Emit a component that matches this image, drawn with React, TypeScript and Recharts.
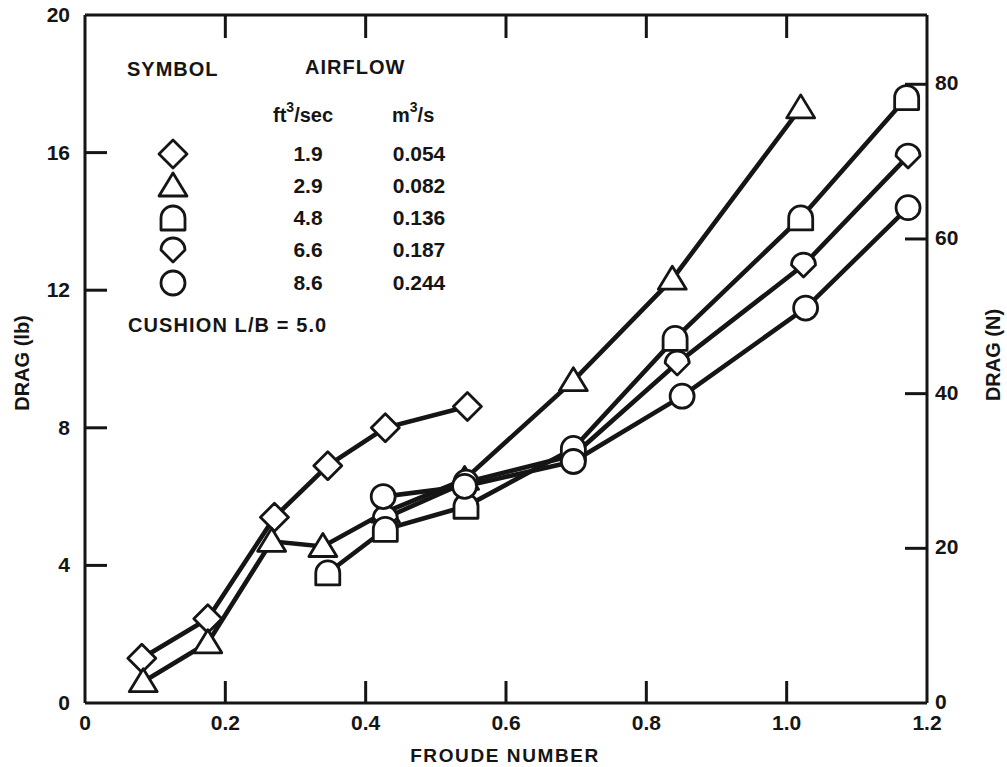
import React from "react";
import { ScatterChart, Scatter, XAxis, YAxis } from "recharts";

const FONT = "'Liberation Sans', Arial, sans-serif";
const INK = "#151515";

// Froude number (x) and drag in lb (y) per airflow series
const diamondX = [0.081, 0.175, 0.27, 0.346, 0.428, 0.545];
const diamondY = [1.3, 2.45, 5.4, 6.9, 8.0, 8.62];

const triangleX = [0.083, 0.175, 0.266, 0.339, 0.428, 0.541, 0.696, 0.837, 1.02];
const triangleY = [0.62, 1.75, 4.7, 4.55, 5.55, 6.5, 9.37, 12.32, 17.3];

const dsquareX = [0.346, 0.428, 0.543, 0.696, 0.841, 1.02, 1.171];
const dsquareY = [3.78, 5.05, 5.72, 7.4, 10.6, 14.1, 17.6];

const shieldX = [0.428, 0.543, 0.696, 0.844, 1.024, 1.173];
const shieldY = [5.38, 6.42, 7.2, 9.88, 12.73, 15.9];

const circleX = [0.425, 0.541, 0.696, 0.851, 1.027, 1.173];
const circleY = [6.0, 6.3, 7.02, 8.92, 11.48, 14.4];

const xTicks = [0, 0.2, 0.4, 0.6, 0.8, 1.0, 1.2];
const topTicks = [0.2, 0.4, 0.6, 0.8, 1.0];
const lbTicks = [0, 4, 8, 12, 16, 20];
const nTicks = [0, 20, 40, 60, 80];

const legendFt = ["1.9", "2.9", "4.8", "6.6", "8.6"];
const legendM = ["0.054", "0.082", "0.136", "0.187", "0.244"];
const legendShapes = ["diamond", "triangle", "dsquare", "shield", "circle"];

const toPts = (xs: number[], ys: number[]) => xs.map((x, i) => ({ x, y: ys[i] }));

const markerPath = (kind: string, cx: number, cy: number) => {
  switch (kind) {
    case "diamond":
      return `M${cx},${cy - 14} L${cx + 14},${cy} L${cx},${cy + 14} L${cx - 14},${cy} Z`;
    case "triangle":
      return `M${cx},${cy - 13} L${cx + 14},${cy + 10} L${cx - 14},${cy + 10} Z`;
    case "dsquare":
      return `M${cx - 12},${cy + 12} L${cx - 12},${cy} A12,12 0 0 1 ${cx + 12},${cy} L${cx + 12},${cy + 12} Z`;
    case "shield":
      return `M${cx - 12},${cy} A12,12 0 0 1 ${cx + 12},${cy} L${cx},${cy + 12} Z`;
    default:
      return "";
  }
};

const Marker = ({ kind, cx, cy }: { kind: string; cx: number; cy: number }) =>
  kind === "circle" ? (
    <circle cx={cx} cy={cy} r={12} fill="#fff" stroke={INK} strokeWidth={2.8} />
  ) : (
    <path d={markerPath(kind, cx, cy)} fill="#fff" stroke={INK} strokeWidth={2.8} strokeLinejoin="round" />
  );

const shapeFor = (kind: string) => (props: any) => <Marker kind={kind} cx={props.cx} cy={props.cy} />;

const txt = { fontFamily: FONT, fontWeight: 700, fill: INK } as const;

const fmtX = (v: number) => (v === 0 ? "0" : v.toFixed(1));

const BottomTick = (props: any) => {
  const { x, y, payload } = props;
  const v = payload.value;
  const edge = v === 0 || v === 1.2;
  return (
    <g>
      {!edge && <line x1={x} x2={x} y1={y} y2={y - 22} stroke={INK} strokeWidth={3} />}
      <text x={x} y={y + 27} textAnchor="middle" fontSize={21} {...txt}>
        {fmtX(v)}
      </text>
    </g>
  );
};

const TopTick = (props: any) => {
  const { x, y } = props;
  return <line x1={x} x2={x} y1={y} y2={y + 23} stroke={INK} strokeWidth={3} />;
};

const LeftTick = (props: any) => {
  const { x, y, payload } = props;
  const v = payload.value;
  const edge = v === 0 || v === 20;
  return (
    <g>
      {!edge && <line x1={x} x2={x + 22} y1={y} y2={y} stroke={INK} strokeWidth={3} />}
      <text x={x - 15} y={y + 7} textAnchor="end" fontSize={21} {...txt}>
        {v}
      </text>
    </g>
  );
};

const RightTick = (props: any) => {
  const { x, y, payload } = props;
  const v = payload.value;
  return (
    <g>
      {v !== 0 && <line x1={x} x2={x - 22} y1={y} y2={y} stroke={INK} strokeWidth={3} />}
      <text x={x + 8} y={y + 6} textAnchor="start" fontSize={21} {...txt}>
        {v}
      </text>
    </g>
  );
};

const lineStyle = { stroke: INK, strokeWidth: 4.6 };

const rowY = [154, 186, 218, 250, 283];

export default function App() {
  return (
    <div style={{ position: "absolute", left: 0, top: 0, width: 1007, height: 767, background: "#fff" }}>
      <ScatterChart width={1007} height={767} margin={{ top: 10, right: 20, bottom: 24, left: 25 }}>
        <XAxis
          type="number"
          dataKey="x"
          domain={[0, 1.2]}
          ticks={xTicks}
          allowDataOverflow
          height={40}
          tickSize={0}
          tickMargin={0}
          tickLine={false}
          axisLine={{ stroke: INK, strokeWidth: 3 }}
          tick={<BottomTick />}
        />
        <XAxis
          xAxisId="top"
          orientation="top"
          type="number"
          dataKey="x"
          domain={[0, 1.2]}
          ticks={topTicks}
          allowDataOverflow
          height={5}
          tickSize={0}
          tickMargin={0}
          tickLine={false}
          axisLine={{ stroke: INK, strokeWidth: 3 }}
          tick={<TopTick />}
        />
        <YAxis
          type="number"
          dataKey="y"
          domain={[0, 20]}
          ticks={lbTicks}
          allowDataOverflow
          width={60}
          tickSize={0}
          tickMargin={0}
          tickLine={false}
          axisLine={{ stroke: INK, strokeWidth: 3 }}
          tick={<LeftTick />}
        />
        <YAxis
          yAxisId="right"
          orientation="right"
          type="number"
          domain={[0, 88.96]}
          ticks={nTicks}
          allowDataOverflow
          width={60}
          tickSize={0}
          tickMargin={0}
          tickLine={false}
          axisLine={{ stroke: INK, strokeWidth: 3 }}
          tick={<RightTick />}
        />
        <Scatter data={toPts(diamondX, diamondY)} line={lineStyle} shape={shapeFor("diamond")} isAnimationActive={false} />
        <Scatter data={toPts(triangleX, triangleY)} line={lineStyle} shape={shapeFor("triangle")} isAnimationActive={false} />
        <Scatter data={toPts(shieldX, shieldY)} line={lineStyle} shape={shapeFor("shield")} isAnimationActive={false} />
        <Scatter data={toPts(dsquareX, dsquareY)} line={lineStyle} shape={shapeFor("dsquare")} isAnimationActive={false} />
        <Scatter data={toPts(circleX, circleY)} line={lineStyle} shape={shapeFor("circle")} isAnimationActive={false} />
      </ScatterChart>
      <svg width={1007} height={767} style={{ position: "absolute", left: 0, top: 0, pointerEvents: "none" }}>
        <text x={127} y={76} fontSize={20} letterSpacing={1} {...txt}>SYMBOL</text>
        <text x={305} y={74} fontSize={20} letterSpacing={1} {...txt}>AIRFLOW</text>
        <text x={273} y={122} fontSize={20} {...txt}>
          ft<tspan dy={-10} fontSize={14}>3</tspan><tspan dy={10}>/sec</tspan>
        </text>
        <text x={392} y={122} fontSize={20} {...txt}>
          m<tspan dy={-10} fontSize={14}>3</tspan><tspan dy={10}>/s</tspan>
        </text>
        {legendShapes.map((k, i) => (
          <Marker key={k} kind={k} cx={173} cy={rowY[i]} />
        ))}
        {legendFt.map((t, i) => (
          <text key={"f" + t} x={308} y={rowY[i] + 7} textAnchor="middle" fontSize={21} {...txt}>{t}</text>
        ))}
        {legendM.map((t, i) => (
          <text key={"m" + t} x={419} y={rowY[i] + 7} textAnchor="middle" fontSize={21} {...txt}>{t}</text>
        ))}
        <text x={128} y={332} fontSize={20} letterSpacing={1.1} {...txt}>CUSHION L/B = 5.0</text>
        <text x={505} y={762} textAnchor="middle" fontSize={19} letterSpacing={1.6} {...txt}>FROUDE NUMBER</text>
        <text x={0} y={0} transform="translate(29,363) rotate(-90)" textAnchor="middle" fontSize={20} {...txt}>DRAG (lb)</text>
        <text x={0} y={0} transform="translate(1000,355) rotate(-90)" textAnchor="middle" fontSize={20} {...txt}>DRAG (N)</text>
      </svg>
    </div>
  );
}
